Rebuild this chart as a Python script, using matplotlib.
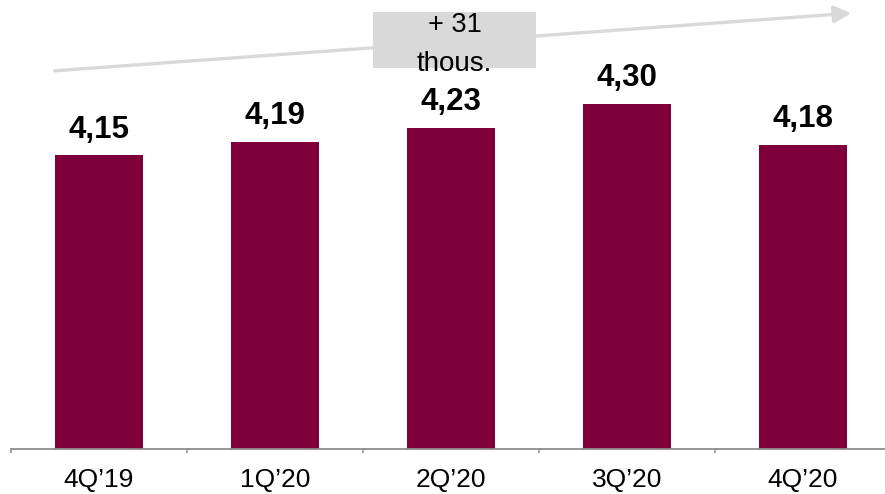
import matplotlib.pyplot as plt
from matplotlib.patches import Rectangle, FancyArrowPatch

plt.rcParams['font.family'] = ['Liberation Sans', 'DejaVu Sans']

# Quarterly values
quarters = ["4Q’19", "1Q’20", "2Q’20", "3Q’20", "4Q’20"]
values = [4.15, 4.19, 4.23, 4.30, 4.18]
value_labels = ["4,15", "4,19", "4,23", "4,30", "4,18"]
growth_label = ["+ 31", "thous."]

bar_color = '#7E003A'
axis_color = '#8C8C8C'
trend_color = '#D9D9D9'

fig = plt.figure(figsize=(8.85, 4.94), dpi=100)
ax = fig.add_axes([11 / 885, 0.0905, 880 / 885, 0.9065])

x = range(len(quarters))
bars = ax.bar(x, values, width=0.5, color=bar_color, zorder=2)

ax.set_xlim(-0.5, len(quarters) - 0.5)
ax.set_ylim(3.29, 4.60)

# Value labels above bars
for bar, lab in zip(bars, value_labels):
    ax.annotate(lab, (bar.get_x() + bar.get_width() / 2, bar.get_height()),
                xytext=(0, 12.7), textcoords='offset points',
                ha='center', va='baseline', fontsize=22.5, fontweight='bold',
                color='black')

# Axes styling: only the baseline with separators between categories
for side in ['left', 'right', 'top']:
    ax.spines[side].set_visible(False)
ax.spines['bottom'].set_color(axis_color)
ax.spines['bottom'].set_linewidth(1.3)
ax.set_yticks([])

ax.set_xticks(list(x))
ax.set_xticklabels(quarters, fontsize=19)
ax.tick_params(axis='x', which='major', length=0, pad=13.5)
ax.set_xticks([i - 0.5 for i in range(len(quarters) + 1)], minor=True)
ax.tick_params(axis='x', which='minor', direction='out', length=3,
               width=1.1, color=axis_color)

# Trend arrow across the top
W, H = 885, 494
arrow = FancyArrowPatch((52 / W, 1 - 71 / H), (854 / W, 1 - 13 / H),
                        transform=fig.transFigure, arrowstyle='-|>',
                        mutation_scale=26, linewidth=2.4,
                        color=trend_color, zorder=1)
fig.patches.append(arrow)

# Growth box
box = Rectangle((373 / W, 1 - 68 / H), 163 / W, 56 / H,
                transform=fig.transFigure, facecolor=trend_color,
                edgecolor='none', zorder=2)
fig.patches.append(box)
fig.text(455 / W, 1 - 25 / H, growth_label[0], ha='center', va='center',
         fontsize=19.5, color='black', zorder=3)
fig.text(454 / W, 1 - 71 / H, growth_label[1], ha='center', va='baseline',
         fontsize=20, color='black', zorder=3)

fig.savefig('out.png', dpi=100)
